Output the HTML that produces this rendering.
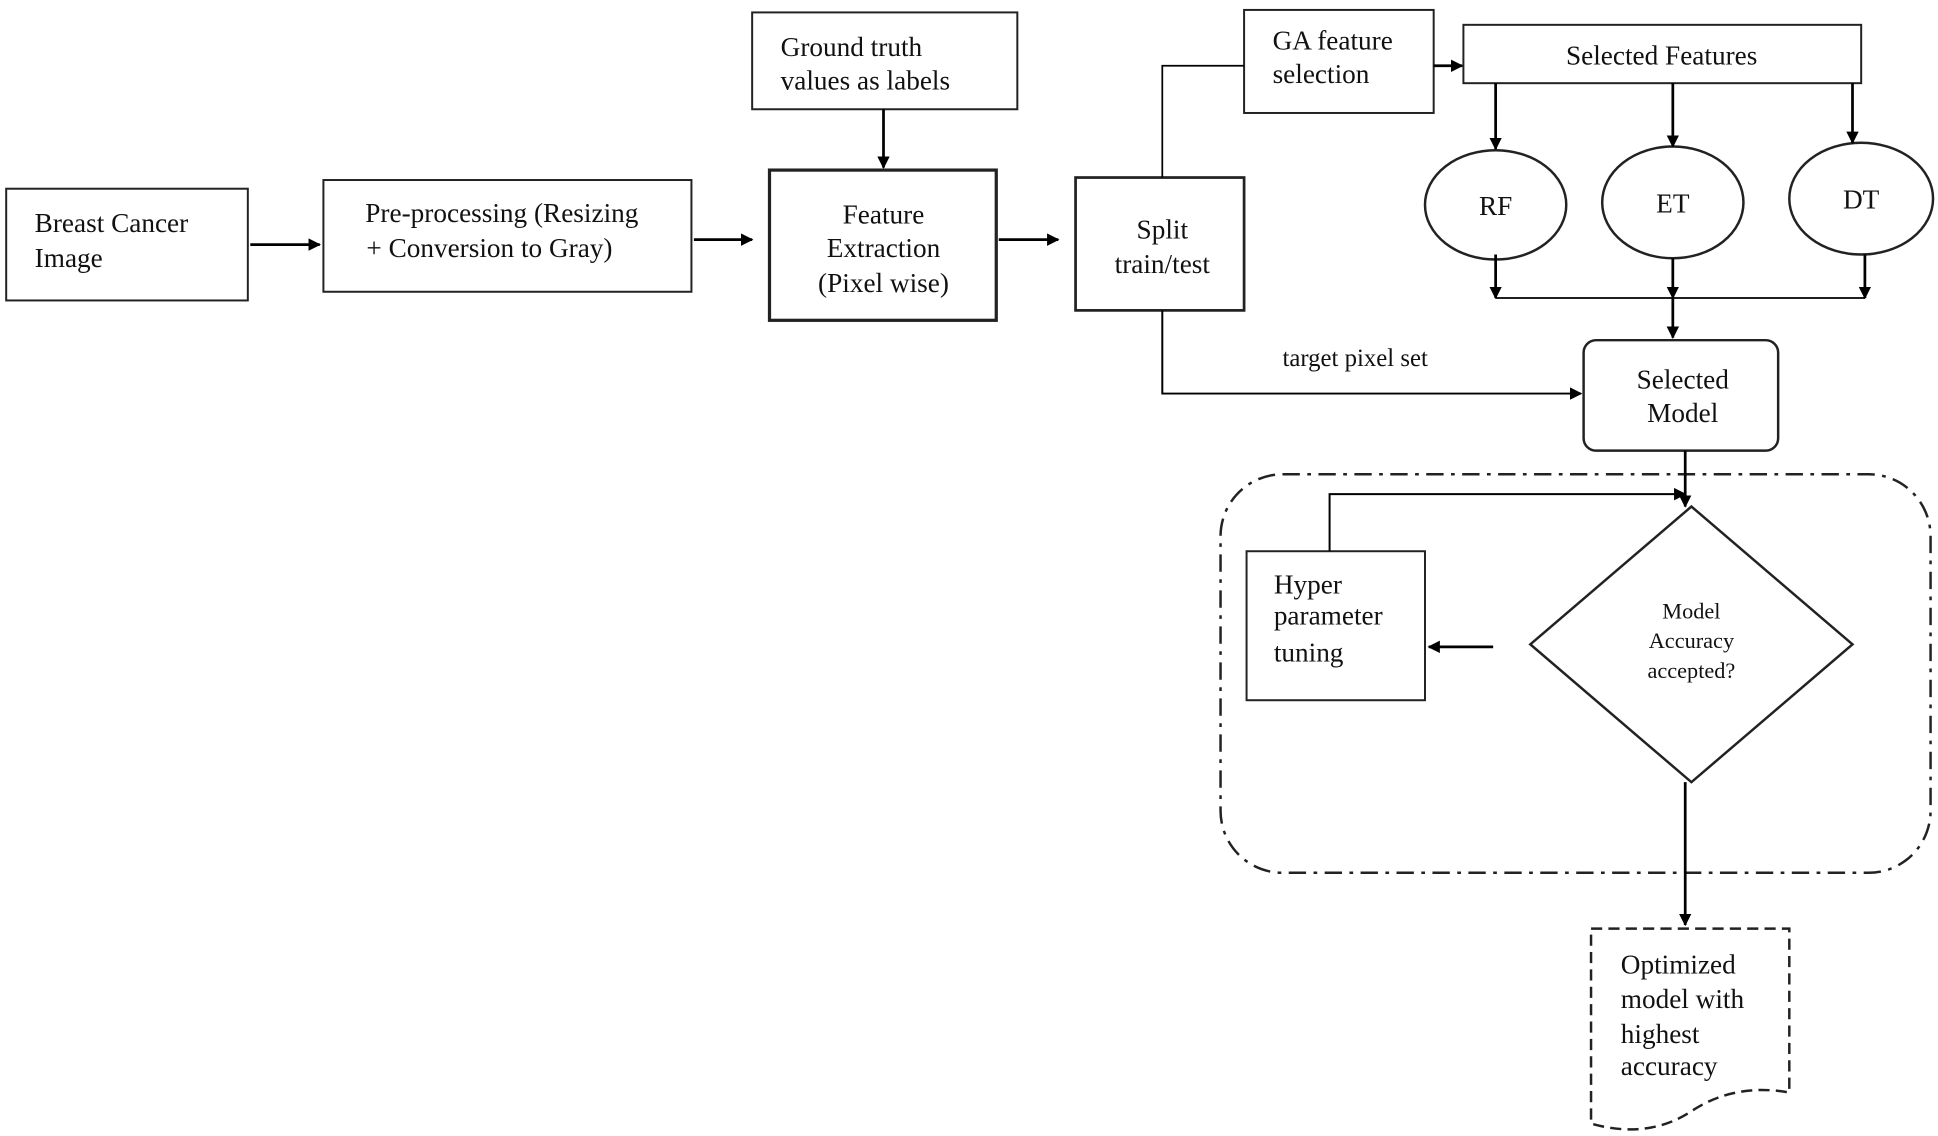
<!DOCTYPE html>
<html><head><meta charset="utf-8"><style>
html,body{margin:0;padding:0;background:#fff;}
svg{display:block;}
text{font-family:"Liberation Serif",serif;font-size:22px;fill:#111;}
</style></head><body>
<svg width="1938" height="1136" viewBox="0 0 1564 915" preserveAspectRatio="none" xmlns="http://www.w3.org/2000/svg">
<defs>
<marker id="a" markerWidth="10" markerHeight="10" refX="9" refY="5" orient="auto" markerUnits="userSpaceOnUse" viewBox="0 0 10 10">
<path d="M0,0 L10,5 L0,10 z" fill="#000"/></marker>
</defs>
<g fill="none" stroke="#222" stroke-width="1.6">
<rect x="5" y="152" width="195" height="90"/>
<rect x="261" y="145" width="297" height="90"/>
<rect x="621" y="137" width="183" height="121" stroke-width="2.6"/>
<rect x="607" y="10" width="214" height="78"/>
<rect x="868" y="143" width="136" height="107" stroke-width="2.2"/>
<rect x="1004" y="8" width="153" height="83"/>
<rect x="1181" y="20" width="321" height="47"/>
<ellipse cx="1207" cy="165" rx="57" ry="44" stroke-width="2"/>
<ellipse cx="1350" cy="163" rx="57" ry="45" stroke-width="2"/>
<ellipse cx="1502" cy="160" rx="58" ry="45" stroke-width="2"/>
<rect x="1278" y="274" width="157" height="89" rx="10" stroke-width="2"/>
<rect x="985" y="382" width="573" height="321" rx="50" stroke-width="2" stroke-dasharray="14,6,3,6"/>
<path d="M1365,408 L1495,519 L1365,630 L1235,519 Z" stroke-width="2"/>
<rect x="1006" y="444" width="144" height="120"/>
<path d="M1284,748 L1444,748 L1444,880 Q1400,872 1365,895 Q1330,918 1284,905 Z" stroke-width="2" stroke-dasharray="9,5"/>
</g>
<g stroke="#000" stroke-width="2.2" fill="none">
<line x1="202" y1="197" x2="258" y2="197" marker-end="url(#a)"/>
<line x1="560" y1="193" x2="607" y2="193" marker-end="url(#a)"/>
<line x1="713" y1="88" x2="713" y2="135" marker-end="url(#a)"/>
<line x1="806" y1="193" x2="854" y2="193" marker-end="url(#a)"/>
<polyline points="938,143 938,53 1004,53" stroke-width="1.4"/>
<line x1="1157" y1="53" x2="1180" y2="53" marker-end="url(#a)"/>
<line x1="1207" y1="67" x2="1207" y2="120" marker-end="url(#a)"/>
<line x1="1350" y1="67" x2="1350" y2="118" marker-end="url(#a)"/>
<line x1="1495" y1="67" x2="1495" y2="115" marker-end="url(#a)"/>
<line x1="1207" y1="205" x2="1207" y2="240" marker-end="url(#a)"/>
<line x1="1350" y1="208" x2="1350" y2="240" marker-end="url(#a)"/>
<line x1="1505" y1="205" x2="1505" y2="240" marker-end="url(#a)"/>
<line x1="1207" y1="240" x2="1505" y2="240" stroke-width="1.4"/>
<line x1="1350" y1="240" x2="1350" y2="272" marker-end="url(#a)"/>
<polyline points="938,250 938,317 1276,317" stroke-width="1.6" marker-end="url(#a)"/>
<line x1="1360" y1="363" x2="1360" y2="408" marker-end="url(#a)"/>
<line x1="1205" y1="521" x2="1153" y2="521" marker-end="url(#a)"/>
<polyline points="1073,444 1073,398 1360,398" stroke-width="1.6" marker-end="url(#a)"/>
<line x1="1360" y1="630" x2="1360" y2="745" marker-end="url(#a)"/>
</g>
<text x="28" y="187">Breast Cancer</text>
<text x="28" y="215">Image</text>
<text x="405" y="179" text-anchor="middle">Pre-processing (Resizing</text>
<text x="395" y="207" text-anchor="middle">+ Conversion to Gray)</text>
<text x="713" y="180" text-anchor="middle">Feature</text>
<text x="713" y="207" text-anchor="middle">Extraction</text>
<text x="713" y="235" text-anchor="middle">(Pixel wise)</text>
<text x="630" y="45">Ground truth</text>
<text x="630" y="72">values as labels</text>
<text x="938" y="192" text-anchor="middle">Split</text>
<text x="938" y="220" text-anchor="middle">train/test</text>
<text x="1027" y="40">GA feature</text>
<text x="1027" y="67">selection</text>
<text x="1341" y="52" text-anchor="middle">Selected Features</text>
<text x="1207" y="173" text-anchor="middle">RF</text>
<text x="1350" y="171" text-anchor="middle">ET</text>
<text x="1502" y="168" text-anchor="middle">DT</text>
<text x="1358" y="313" text-anchor="middle">Selected</text>
<text x="1358" y="340" text-anchor="middle">Model</text>
<text x="1035" y="295" style="font-size:20px">target pixel set</text>
<text x="1365" y="498" text-anchor="middle" style="font-size:18px">Model</text>
<text x="1365" y="522" text-anchor="middle" style="font-size:18px">Accuracy</text>
<text x="1365" y="546" text-anchor="middle" style="font-size:18px">accepted?</text>
<text x="1028" y="478">Hyper</text>
<text x="1028" y="503">parameter</text>
<text x="1028" y="533">tuning</text>
<text x="1308" y="784">Optimized</text>
<text x="1308" y="812">model with</text>
<text x="1308" y="840">highest</text>
<text x="1308" y="866">accuracy</text>
</svg>
</body></html>
